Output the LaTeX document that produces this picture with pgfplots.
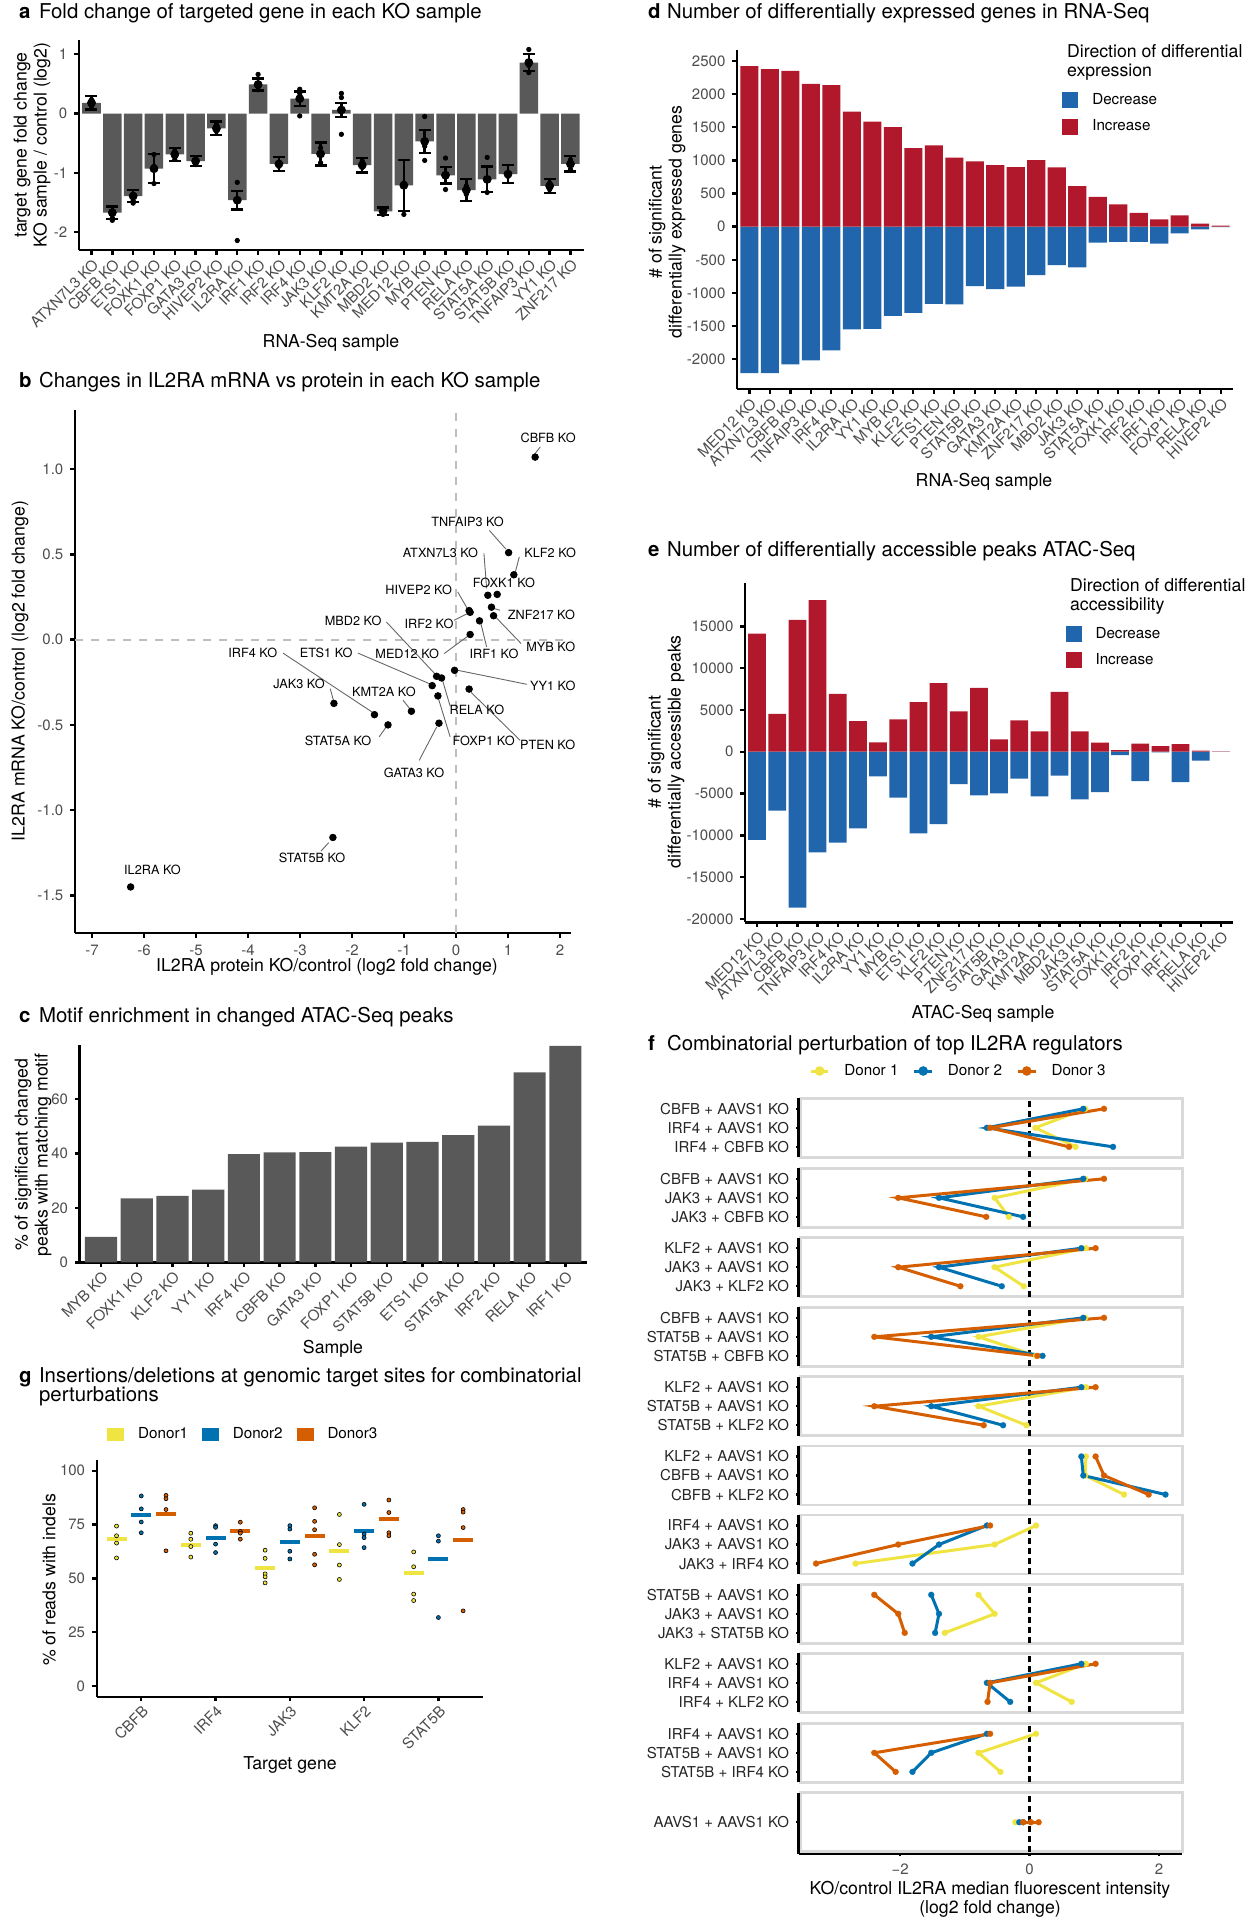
\documentclass[border=0pt]{standalone}
\usepackage{fontspec}
\setmainfont{TeX Gyre Heros}
\usepackage{pgfplots}
\pgfplotsset{compat=1.18}
\definecolor{barg}{HTML}{595959}
\definecolor{dred}{HTML}{B2182B}
\definecolor{dblue}{HTML}{2166AC}
\definecolor{dy}{HTML}{F0E442}
\definecolor{db}{HTML}{0072B2}
\definecolor{dor}{HTML}{D55E00}
\definecolor{tickc}{HTML}{4D4D4D}
\definecolor{boxg}{HTML}{D9D9D9}
\definecolor{dashg}{HTML}{BEBEBE}
\newcommand{\ttl}{\fontsize{10.2pt}{12pt}\selectfont}
\newcommand{\axt}{\fontsize{8.85pt}{10pt}\selectfont}
\newcommand{\tkf}{\fontsize{7.5pt}{9pt}\selectfont}
\newcommand{\lgf}{\fontsize{7.6pt}{9pt}\selectfont}
\newcommand{\lbf}{\fontsize{6.35pt}{7.6pt}\selectfont}
\tikzset{
  lab/.style={font=\lbf, inner sep=0pt, text=black},
  lead/.style={draw=black!60, line width=0.45pt},
}
\pgfplotsset{
  gg/.style={scale only axis, clip=false,
    axis x line*=bottom, axis y line*=left,
    axis line style={-, line width=1.2pt, black},
    tick align=outside, major tick length=2.3pt,
    tick style={black, line width=1.2pt},
    ticklabel style={font=\tkf, text=tickc},
    /pgf/number format/assume math mode=true,
    /pgf/number format/1000 sep={},
    scaled ticks=false},
  rotx/.style={xticklabel style={rotate=45, anchor=north east, inner sep=1pt}},
  sq/.style={legend image code/.code={\fill[#1] (0pt,-4pt) rectangle (8pt,4pt);}},
  rl/.style={legend image code/.code={\fill[#1] (0pt,-3pt) rectangle (8pt,3pt);}},
  dl/.style={legend image code/.code={\draw[#1, line width=1.5pt] (0pt,0pt) -- (8.75pt,0pt); \fill[#1] (4.375pt,0pt) circle (1.6pt);}},
  facet/.style={scale only axis, clip=false, width=190.75pt, height=29.5pt,
    xmin=-3.536, xmax=2.360, axis line style={boxg, line width=1.4pt},
    xtick=\empty, ytick pos=left, tick align=outside, major tick length=2.3pt,
    tick style={black, line width=1.2pt},
    yticklabel style={font=\tkf, text=black!85}},
  f3/.style={facet, ymin=-0.55, ymax=2.55, ytick={0,1,2}},
  dline/.style={line width=1.5pt, mark=*, mark size=1.5pt, mark options={line width=0.1pt}},
}
\newcommand{\facetaxis}[7]{%
\begin{axis}[f3, at={({800.8*0.5pt},{-#1*0.5pt})}, anchor=south west, yticklabels={#4,#3,#2}]
\draw[black, line width=1.3pt, dash pattern=on 3pt off 2pt] (axis cs:0,-0.55) -- (axis cs:0,2.55);
\draw[black, line width=1.2pt] ([xshift=-1.1pt]rel axis cs:0,0) -- ([xshift=-1.1pt]rel axis cs:0,1);
\addplot[dy, dline] coordinates {#5};
\addplot[db, dline] coordinates {#6};
\addplot[dor, dline] coordinates {#7};
\end{axis}}
\begin{document}
\begin{tikzpicture}[x=0.5pt,y=-0.5pt]
\useasboundingbox (0,0) rectangle (1244,1920);
% ================= panel a
\node[anchor=base west, font=\ttl\bfseries] at (12,18.5) {a};
\node[anchor=base west, font=\ttl] at (32,18.5) {Fold change of targeted gene in each KO sample};
\begin{axis}[gg, rotx, at={({79*0.5pt},{-250*0.5pt})}, anchor=south west, width=252.5pt, height=105pt,
  xmin=-0.6, xmax=23.65, ymin=-2.3, ymax=1.24, ytick={-2,-1,0,1},
  xtick={0,...,23}, xticklabels={ATXN7L3 KO,CBFB KO,ETS1 KO,FOXK1 KO,FOXP1 KO,GATA3 KO,HIVEP2 KO,IL2RA KO,IRF1 KO,IRF2 KO,IRF4 KO,JAK3 KO,KLF2 KO,KMT2A KO,MBD2 KO,MED12 KO,MYB KO,PTEN KO,RELA KO,STAT5A KO,STAT5B KO,TNFAIP3 KO,YY1 KO,ZNF217 KO}]
\addplot[ybar, bar width=0.89, bar shift=0pt, fill=barg, draw=none] coordinates {
(0,0.18)(1,-1.67)(2,-1.39)(3,-0.93)(4,-0.69)(5,-0.80)(6,-0.25)(7,-1.46)(8,0.49)(9,-0.85)(10,0.25)(11,-0.68)(12,0.06)(13,-0.87)(14,-1.65)(15,-1.21)(16,-0.47)(17,-1.04)(18,-1.29)(19,-1.11)(20,-1.02)(21,0.86)(22,-1.22)(23,-0.85)};
\addplot[only marks, mark=none, error bars/.cd, y dir=both, y explicit, error mark=none, error bar style={black, line width=1.2pt}] coordinates {
(0,0.18)+-(0,0.115) (1,-1.67)+-(0,0.105) (2,-1.39)+-(0,0.10) (3,-0.93)+-(0,0.245) (4,-0.69)+-(0,0.105) (5,-0.80)+-(0,0.08) (6,-0.25)+-(0,0.115) (7,-1.46)+-(0,0.155) (8,0.49)+-(0,0.10) (9,-0.85)+-(0,0.12) (10,0.25)+-(0,0.125) (11,-0.68)+-(0,0.195) (12,0.06)+-(0,0.12) (13,-0.87)+-(0,0.125) (14,-1.65)+-(0,0.065) (15,-1.21)+-(0,0.43) (16,-0.47)+-(0,0.195) (17,-1.04)+-(0,0.14) (18,-1.29)+-(0,0.185) (19,-1.11)+-(0,0.215) (20,-1.02)+-(0,0.15) (21,0.86)+-(0,0.14) (22,-1.22)+-(0,0.115) (23,-0.85)+-(0,0.13)};
\addplot[only marks, mark=-, mark size=3pt, mark options={black, line width=1.2pt}] coordinates {
(0,0.295)(0,0.065)(1,-1.565)(1,-1.775)(2,-1.29)(2,-1.49)(3,-0.685)(3,-1.175)(4,-0.585)(4,-0.795)(5,-0.72)(5,-0.88)
(6,-0.135)(6,-0.365)(7,-1.305)(7,-1.615)(8,0.59)(8,0.39)(9,-0.73)(9,-0.97)(10,0.375)(10,0.125)(11,-0.485)(11,-0.875)
(12,0.18)(12,-0.06)(13,-0.745)(13,-0.995)(14,-1.585)(14,-1.715)(15,-0.78)(15,-1.64)(16,-0.275)(16,-0.665)(17,-0.90)(17,-1.18)
(18,-1.105)(18,-1.475)(19,-0.895)(19,-1.325)(20,-0.87)(20,-1.17)(21,1.00)(21,0.72)(22,-1.105)(22,-1.335)(23,-0.72)(23,-0.98)};
\addplot[only marks, mark=*, mark size=1.1pt, black] coordinates {
(0,0.235)(0,0.18)(0,0.12) (1,-1.80)(1,-1.76) (2,-1.47)(2,-1.51) (3,-0.69)(3,-0.89)(3,-1.18)
(4,-0.63)(4,-0.72)(4,-0.77) (5,-0.77)(5,-0.82)(5,-0.86) (6,-0.18)(6,-0.24)(6,-0.30)
(7,-1.16)(7,-2.14) (8,0.66)(8,0.45)(8,0.40) (9,-0.82)(9,-0.86)(9,-0.89)
(10,0.41)(10,0.34)(10,-0.04) (11,-0.58)(11,-0.69)(11,-0.83) (12,0.34)(12,0.27)(12,-0.35)
(13,-0.80)(13,-0.91) (14,-1.62)(14,-1.70) (15,-1.17)(15,-1.70) (16,-0.05)(16,-0.55)(16,-0.79)
(17,-0.75)(17,-1.04)(17,-1.28) (18,-1.22)(18,-1.36) (19,-0.74)(19,-1.33)
(20,-1.06) (21,1.08)(21,0.81)(21,0.69) (22,-1.17)(22,-1.28) (23,-0.78)(23,-0.85)(23,-0.94)};
\end{axis}
\node[font=\axt] at (331,343) {RNA-Seq sample};
\node[font=\axt, rotate=90, align=center] at (32,145) {target gene fold change\\KO sample / control (log2)};
% ================= panel b
\node[anchor=base west, font=\ttl\bfseries] at (12,387) {b};
\node[anchor=base west, font=\ttl] at (32,387) {Changes in IL2RA mRNA vs protein in each KO sample};
\begin{axis}[gg, at={({75*0.5pt},{-933*0.5pt})}, anchor=south west, width=248pt, height=261.5pt,
  xmin=-7.33, xmax=2.21, ymin=-1.72, ymax=1.346, xtick={-7,...,2}, ytick={-1.5,-1,...,1},
  yticklabel style={/pgf/number format/.cd, fixed, fixed zerofill, precision=1}]
\draw[dashg, line width=0.9pt, dash pattern=on 4pt off 4pt] (axis cs:0,-1.72) -- (axis cs:0,1.346);
\draw[dashg, line width=0.9pt, dash pattern=on 4pt off 4pt] (axis cs:-7.33,0) -- (axis cs:2.21,0);
\draw[lead] (axis cs:1.62,1.13) -- (axis cs:1.51,1.087);
\draw[lead] (axis cs:0.64,0.64) -- (axis cs:0.96,0.53);
\draw[lead] (axis cs:0.535,0.505) -- (axis cs:0.587,0.30);
\draw[lead] (axis cs:1.215,0.485) -- (axis cs:1.14,0.397);
\draw[lead] (axis cs:0.03,0.28) -- (axis cs:0.22,0.18);
\draw[lead] (axis cs:0.846,0.172) -- (axis cs:0.735,0.182);
\draw[lead] (axis cs:-1.34,0.103) -- (axis cs:-0.41,-0.2);
\draw[lead] (axis cs:-0.04,0.113) -- (axis cs:0.22,0.153);
\draw[lead] (axis cs:1.25,-0.023) -- (axis cs:0.77,0.129);
\draw[lead] (axis cs:-3.33,-0.079) -- (axis cs:-1.59,-0.43);
\draw[lead] (axis cs:-1.89,-0.079) -- (axis cs:-0.485,-0.262);
\draw[lead] (axis cs:-0.23,-0.082) -- (axis cs:0.22,0.019);
\draw[lead] (axis cs:0.587,-0.043) -- (axis cs:0.477,0.094);
\draw[lead] (axis cs:1.36,-0.262) -- (axis cs:0.03,-0.18);
\draw[lead] (axis cs:-2.42,-0.288) -- (axis cs:-2.36,-0.356);
\draw[lead] (axis cs:-1.02,-0.356) -- (axis cs:-0.89,-0.405);
\draw[lead] (axis cs:-0.115,-0.39) -- (axis cs:-0.26,-0.24);
\draw[lead] (axis cs:-1.48,-0.57) -- (axis cs:-1.34,-0.51);
\draw[lead] (axis cs:-0.115,-0.57) -- (axis cs:-0.34,-0.346);
\draw[lead] (axis cs:1.23,-0.59) -- (axis cs:0.29,-0.31);
\draw[lead] (axis cs:-0.71,-0.708) -- (axis cs:-0.375,-0.513);
\draw[lead] (axis cs:-2.6,-1.24) -- (axis cs:-2.45,-1.19);
\addplot[only marks, mark=*, mark size=1.65pt, black] coordinates {
(1.52,1.07)(1.01,0.51)(1.11,0.38)(0.61,0.26)(0.79,0.265)(0.25,0.17)(0.27,0.16)(0.68,0.19)(0.72,0.14)(0.45,0.11)(0.27,0.03)
(-0.03,-0.18)(0.25,-0.29)(-0.375,-0.215)(-0.28,-0.225)(-0.46,-0.27)(-0.35,-0.33)(-0.33,-0.49)(-0.86,-0.42)(-1.57,-0.44)(-1.31,-0.50)(-2.35,-0.374)(-2.37,-1.16)(-6.26,-1.45)};
\node[lab] at (axis cs:1.77,1.185) {CBFB KO};
\node[lab] at (axis cs:0.22,0.69) {TNFAIP3 KO};
\node[lab] at (axis cs:-0.30,0.51) {ATXN7L3 KO};
\node[lab] at (axis cs:1.81,0.51) {KLF2 KO};
\node[lab] at (axis cs:0.92,0.33) {FOXK1 KO};
\node[lab] at (axis cs:-0.72,0.29) {HIVEP2 KO};
\node[lab] at (axis cs:1.64,0.147) {ZNF217 KO};
\node[lab] at (axis cs:-1.98,0.11) {MBD2 KO};
\node[lab] at (axis cs:-0.52,0.094) {IRF2 KO};
\node[lab] at (axis cs:1.82,-0.04) {MYB KO};
\node[lab] at (axis cs:-3.91,-0.077) {IRF4 KO};
\node[lab] at (axis cs:-2.5,-0.077) {ETS1 KO};
\node[lab] at (axis cs:-0.94,-0.086) {MED12 KO};
\node[lab] at (axis cs:0.73,-0.086) {IRF1 KO};
\node[lab] at (axis cs:1.86,-0.27) {YY1 KO};
\node[lab] at (axis cs:-3.02,-0.26) {JAK3 KO};
\node[lab] at (axis cs:-1.39,-0.305) {KMT2A KO};
\node[lab] at (axis cs:0.40,-0.41) {RELA KO};
\node[lab] at (axis cs:-2.27,-0.595) {STAT5A KO};
\node[lab] at (axis cs:0.53,-0.595) {FOXP1 KO};
\node[lab] at (axis cs:1.76,-0.62) {PTEN KO};
\node[lab] at (axis cs:-0.81,-0.78) {GATA3 KO};
\node[lab] at (axis cs:-2.77,-1.28) {STAT5B KO};
\node[lab] at (axis cs:-5.84,-1.35) {IL2RA KO};
\end{axis}
\node[font=\axt] at (327,967) {IL2RA protein KO/control (log2 fold change)};
\node[font=\axt, rotate=90] at (20,671) {IL2RA mRNA KO/control (log2 fold change)};
% ================= panel c
\node[anchor=base west, font=\ttl\bfseries] at (12,1022) {c};
\node[anchor=base west, font=\ttl] at (32,1022) {Motif enrichment in changed ATAC-Seq peaks};
\begin{axis}[gg, rotx, at={({79.6*0.5pt},{-1262.3*0.5pt})}, anchor=south west, width=253.6pt, height=108.65pt,
  xmin=-0.6, xmax=13.6, ymin=0, ymax=79.9, ytick={0,20,40,60},
  xtick={0,...,13}, xticklabels={MYB KO,FOXK1 KO,KLF2 KO,YY1 KO,IRF4 KO,CBFB KO,GATA3 KO,FOXP1 KO,STAT5B KO,ETS1 KO,STAT5A KO,IRF2 KO,RELA KO,IRF1 KO}]
\addplot[ybar, bar width=0.9, bar shift=0pt, fill=barg, draw=none] coordinates {
(0,9.4)(1,23.5)(2,24.4)(3,26.7)(4,39.8)(5,40.4)(6,40.5)(7,42.5)(8,44.0)(9,44.3)(10,46.8)(11,50.3)(12,69.8)(13,79.6)};
\end{axis}
\node[font=\axt] at (333,1349) {Sample};
\node[font=\axt, rotate=90, align=center] at (33,1155) {\% of significant changed\\peaks with matching motif};
% ================= panel g
\node[anchor=base west, font=\ttl\bfseries] at (12,1382) {g};
\node[anchor=base west, font=\ttl] at (32,1382) {Insertions/deletions at genomic target sites for combinatorial};
\node[anchor=base west, font=\ttl] at (32,1401) {perturbations};
\begin{axis}[gg, rotx, at={({96.7*0.5pt},{-1696.7*0.5pt})}, anchor=south west, width=193.15pt, height=118.35pt,
  xmin=0.4, xmax=5.6, ymin=-5, ymax=105, ytick={0,25,50,75,100},
  xtick={1,...,5}, xticklabels={CBFB,IRF4,JAK3,KLF2,STAT5B},
  legend columns=3,
  legend style={at={(axis description cs:0.0267,1.11)}, anchor=west, draw=none, fill=none, inner sep=0pt, column sep=5pt, font=\lgf, cells={anchor=west}}]
\addplot[only marks, mark=-, mark size=5pt, mark options={dy, line width=2pt}, rl=dy] coordinates {(0.667,68.1)(1.667,65.7)(2.667,54.6)(3.667,62.8)(4.667,52.4)};
\addlegendentry{Donor1}
\addplot[only marks, mark=-, mark size=5pt, mark options={db, line width=2pt}, rl=db] coordinates {(1,79.3)(2,68.7)(3,67.1)(4,71.8)(5,59.2)};
\addlegendentry{Donor2}
\addplot[only marks, mark=-, mark size=5pt, mark options={dor, line width=2pt}, rl=dor] coordinates {(1.333,80.1)(2.333,72.1)(3.333,69.8)(4.333,77.5)(5.333,67.8)};
\addlegendentry{Donor3}
\addplot[only marks, mark=*, mark size=1pt, mark options={fill=dy, draw=black, line width=0.3pt}, forget plot] coordinates {
(0.667,74.3)(0.667,69.8)(0.667,66.4)(0.667,59.5)(1.667,71)(1.667,68.2)(1.667,64.8)(1.667,59.9)
(2.667,63.1)(2.667,59.3)(2.667,52.1)(2.667,50.7)(2.667,47.9)(3.667,79.7)(3.667,65.7)(3.667,56.2)(3.667,49.5)
(4.667,62.3)(4.667,55.4)(4.667,42.7)(4.667,39.7)};
\addplot[only marks, mark=*, mark size=1pt, mark options={fill=db, draw=black, line width=0.3pt}, forget plot] coordinates {
(1,88.3)(1,82.3)(1,76.2)(1,71.2)(2,74.5)(2,73.7)(2,65.9)(2,62)(3,74.5)(3,72.9)(3,62.6)(3,59)
(4,84.4)(4,70.6)(4,68.9)(4,64.3)(5,69.8)(5,67.3)(5,31.8)};
\addplot[only marks, mark=*, mark size=1pt, mark options={fill=dor, draw=black, line width=0.3pt}, forget plot] coordinates {
(1.333,88.6)(1.333,87)(1.333,82)(1.333,62.8)(2.333,76.1)(2.333,71.8)(2.333,71)(2.333,68.2)
(3.333,82.8)(3.333,76.5)(3.333,72.6)(3.333,61.2)(3.333,56.3)(4.333,86.4)(4.333,80.6)(4.333,71.2)(4.333,69.8)
(5.333,82)(5.333,80.8)(5.333,73.6)(5.333,34.9)};
\end{axis}
\node[font=\axt] at (290,1765) {Target gene};
\node[font=\axt, rotate=90] at (49,1580) {\% of reads with indels};
% ================= panel d
\node[anchor=base west, font=\ttl\bfseries] at (641,18.5) {d};
\node[anchor=base west, font=\ttl] at (660,18.5) {Number of differentially expressed genes in RNA-Seq};
\begin{axis}[gg, rotx, at={({737*0.5pt},{-389*0.5pt})}, anchor=south west, width=248pt, height=169.5pt,
  xmin=-0.6, xmax=23.6, ymin=-2448, ymax=2665, ytick={-2000,-1500,...,2500},
  xtick={0,...,23}, xticklabels={MED12 KO,ATXN7L3 KO,CBFB KO,TNFAIP3 KO,IRF4 KO,IL2RA KO,YY1 KO,MYB KO,KLF2 KO,ETS1 KO,PTEN KO,STAT5B KO,GATA3 KO,KMT2A KO,ZNF217 KO,MBD2 KO,JAK3 KO,STAT5A KO,FOXK1 KO,IRF2 KO,IRF1 KO,FOXP1 KO,RELA KO,HIVEP2 KO},
  legend style={at={(axis description cs:0.655,0.885)}, anchor=north west, draw=none, fill=none, inner sep=0pt, row sep=2pt, column sep=5pt, font=\lgf, cells={anchor=west}}]
\addplot[ybar, bar width=0.88, bar shift=0pt, fill=dblue, draw=none, sq=dblue] coordinates {
(0,-2210)(1,-2210)(2,-2075)(3,-2015)(4,-1865)(5,-1550)(6,-1540)(7,-1345)(8,-1300)(9,-1165)(10,-1170)(11,-895)(12,-940)(13,-905)(14,-730)(15,-580)(16,-615)(17,-240)(18,-230)(19,-230)(20,-255)(21,-100)(22,-40)(23,-5)};
\addlegendentry{Decrease}
\addplot[ybar, bar width=0.88, bar shift=0pt, fill=dred, draw=none, sq=dred] coordinates {
(0,2420)(1,2375)(2,2350)(3,2155)(4,2135)(5,1735)(6,1585)(7,1500)(8,1185)(9,1225)(10,1040)(11,985)(12,930)(13,900)(14,1005)(15,895)(16,610)(17,450)(18,335)(19,210)(20,110)(21,170)(22,45)(23,15)};
\addlegendentry{Increase}
\end{axis}
\node[anchor=base west, font=\axt] at (1060,58) {Direction of differential};
\node[anchor=base west, font=\axt] at (1060,77) {expression};
\node[font=\axt] at (984,482) {RNA-Seq sample};
\node[font=\axt, rotate=90, align=center] at (667,222) {\# of significant\\differentially expressed genes};
% ================= panel e
\node[anchor=base west, font=\ttl\bfseries] at (641,556) {e};
\node[anchor=base west, font=\ttl] at (660,556) {Number of differentially accessible peaks ATAC-Seq};
\begin{axis}[gg, rotx, at={({745*0.5pt},{-922.3*0.5pt})}, anchor=south west, width=244pt, height=169.5pt,
  xmin=-0.6, xmax=23.6, ymin=-20407, ymax=20144, ytick={-20000,-15000,...,15000},
  xtick={0,...,23}, xticklabels={MED12 KO,ATXN7L3 KO,CBFB KO,TNFAIP3 KO,IRF4 KO,IL2RA KO,YY1 KO,MYB KO,ETS1 KO,KLF2 KO,PTEN KO,ZNF217 KO,STAT5B KO,GATA3 KO,KMT2A KO,MBD2 KO,JAK3 KO,STAT5A KO,FOXK1 KO,IRF2 KO,FOXP1 KO,IRF1 KO,RELA KO,HIVEP2 KO},
  legend style={at={(axis description cs:0.656,0.883)}, anchor=north west, draw=none, fill=none, inner sep=0pt, row sep=2pt, column sep=5pt, font=\lgf, cells={anchor=west}}]
\addplot[ybar, bar width=0.88, bar shift=0pt, fill=dblue, draw=none, sq=dblue] coordinates {
(0,-10560)(1,-7050)(2,-18660)(3,-12030)(4,-10880)(5,-9160)(6,-2950)(7,-5500)(8,-9760)(9,-8650)(10,-3870)(11,-5220)(12,-4980)(13,-3230)(14,-5340)(15,-2870)(16,-5700)(17,-4820)(18,-400)(19,-3510)(20,-80)(21,-3630)(22,-1080)(23,0)};
\addlegendentry{Decrease}
\addplot[ybar, bar width=0.88, bar shift=0pt, fill=dred, draw=none, sq=dred] coordinates {
(0,14140)(1,4540)(2,15780)(3,18130)(4,6930)(5,3670)(6,1120)(7,3860)(8,5940)(9,8210)(10,4820)(11,7650)(12,1470)(13,3750)(14,2430)(15,7170)(16,2430)(17,1080)(18,200)(19,960)(20,680)(21,920)(22,120)(23,40)};
\addlegendentry{Increase}
\end{axis}
\node[anchor=base west, font=\axt] at (1063,591) {Direction of differential};
\node[anchor=base west, font=\axt] at (1063,610) {accessibility};
\node[font=\axt] at (983,1014) {ATAC-Seq sample};
\node[font=\axt, rotate=90, align=center] at (666,752) {\# of significant\\differentially accessible peaks};
% ================= panel f
\node[anchor=base west, font=\ttl\bfseries] at (641,1050) {f};
\node[anchor=base west, font=\ttl] at (660,1050) {Combinatorial perturbation of top IL2RA regulators};
\begin{axis}[f3, at={({800.8*0.5pt},{-1157.3*0.5pt})}, anchor=south west,
  yticklabels={IRF4 + CBFB KO,IRF4 + AAVS1 KO,CBFB + AAVS1 KO},
  legend columns=3,
  legend style={at={(axis description cs:0.0215,1.463)}, anchor=west, draw=none, fill=none, inner sep=0pt, column sep=5.25pt, font=\lgf, cells={anchor=west}}]
\draw[black, line width=1.3pt, dash pattern=on 3pt off 2pt] (axis cs:0,-0.55) -- (axis cs:0,2.55);
\draw[black, line width=1.2pt] ([xshift=-1.1pt]rel axis cs:0,0) -- ([xshift=-1.1pt]rel axis cs:0,1);
\addplot[dy, dline, dl=dy] coordinates {(0.86,2)(0.09,1)(0.71,0)};
\addlegendentry{Donor 1}
\addplot[db, dline, dl=db] coordinates {(0.83,2)(-0.66,1)(1.29,0)};
\addlegendentry{Donor 2}
\addplot[dor, dline, dl=dor] coordinates {(1.15,2)(-0.61,1)(0.61,0)};
\addlegendentry{Donor 3}
\end{axis}
\facetaxis{1227.3}{CBFB + AAVS1 KO}{JAK3 + AAVS1 KO}{JAK3 + CBFB KO}{(0.86,2)(-0.54,1)(-0.32,0)}{(0.83,2)(-1.40,1)(-0.10,0)}{(1.15,2)(-2.03,1)(-0.67,0)}
\facetaxis{1296.7}{KLF2 + AAVS1 KO}{JAK3 + AAVS1 KO}{JAK3 + KLF2 KO}{(0.87,2)(-0.54,1)(-0.09,0)}{(0.80,2)(-1.40,1)(-0.43,0)}{(1.02,2)(-2.03,1)(-1.07,0)}
\facetaxis{1366.3}{CBFB + AAVS1 KO}{STAT5B + AAVS1 KO}{STAT5B + CBFB KO}{(0.86,2)(-0.79,1)(0.10,0)}{(0.83,2)(-1.52,1)(0.20,0)}{(1.15,2)(-2.40,1)(0.12,0)}
\facetaxis{1435.7}{KLF2 + AAVS1 KO}{STAT5B + AAVS1 KO}{STAT5B + KLF2 KO}{(0.87,2)(-0.79,1)(-0.05,0)}{(0.80,2)(-1.52,1)(-0.41,0)}{(1.02,2)(-2.40,1)(-0.71,0)}
\facetaxis{1505}{KLF2 + AAVS1 KO}{CBFB + AAVS1 KO}{CBFB + KLF2 KO}{(0.87,2)(0.86,1)(1.46,0)}{(0.80,2)(0.83,1)(2.10,0)}{(1.02,2)(1.15,1)(1.84,0)}
\facetaxis{1574}{IRF4 + AAVS1 KO}{JAK3 + AAVS1 KO}{JAK3 + IRF4 KO}{(0.10,2)(-0.54,1)(-2.69,0)}{(-0.66,2)(-1.40,1)(-1.81,0)}{(-0.61,2)(-2.03,1)(-3.30,0)}
\facetaxis{1643.3}{STAT5B + AAVS1 KO}{JAK3 + AAVS1 KO}{JAK3 + STAT5B KO}{(-0.79,2)(-0.54,1)(-1.31,0)}{(-1.52,2)(-1.40,1)(-1.46,0)}{(-2.40,2)(-2.03,1)(-1.93,0)}
\facetaxis{1712.3}{KLF2 + AAVS1 KO}{IRF4 + AAVS1 KO}{IRF4 + KLF2 KO}{(0.87,2)(0.10,1)(0.65,0)}{(0.80,2)(-0.66,1)(-0.30,0)}{(1.02,2)(-0.61,1)(-0.65,0)}
\facetaxis{1782.3}{IRF4 + AAVS1 KO}{STAT5B + AAVS1 KO}{STAT5B + IRF4 KO}{(0.10,2)(-0.79,1)(-0.45,0)}{(-0.66,2)(-1.52,1)(-1.81,0)}{(-0.61,2)(-2.40,1)(-2.07,0)}
\begin{axis}[facet, at={({800.8*0.5pt},{-1851.7*0.5pt})}, anchor=south west, ymin=-1.55, ymax=1.55,
  ytick={0}, yticklabels={AAVS1 + AAVS1 KO}, xtick={-2,0,2}, xticklabels={−2,0,2}, xtick pos=bottom,
  xticklabel style={font=\tkf, text=tickc}]
\draw[black, line width=1.3pt, dash pattern=on 3pt off 2pt] (axis cs:0,-1.55) -- (axis cs:0,1.55);
\draw[black, line width=1.2pt] ([xshift=-1.1pt,yshift=-1.1pt]rel axis cs:0,0) -- ([xshift=-1.1pt]rel axis cs:0,1);
\draw[black, line width=1.2pt] ([xshift=-1.1pt,yshift=-1.1pt]rel axis cs:0,0) -- ([yshift=-1.1pt]rel axis cs:1,0);
\addplot[dy, dline] coordinates {(-0.22,0)};
\addplot[db, dline] coordinates {(-0.16,0)(-0.10,0)};
\addplot[dor, dline] coordinates {(-0.10,0)(0.02,0)(0.14,0)};
\end{axis}
\node[font=\axt] at (990,1890) {KO/control IL2RA median fluorescent intensity};
\node[font=\axt] at (990,1909) {(log2 fold change)};
\end{tikzpicture}
\end{document}
